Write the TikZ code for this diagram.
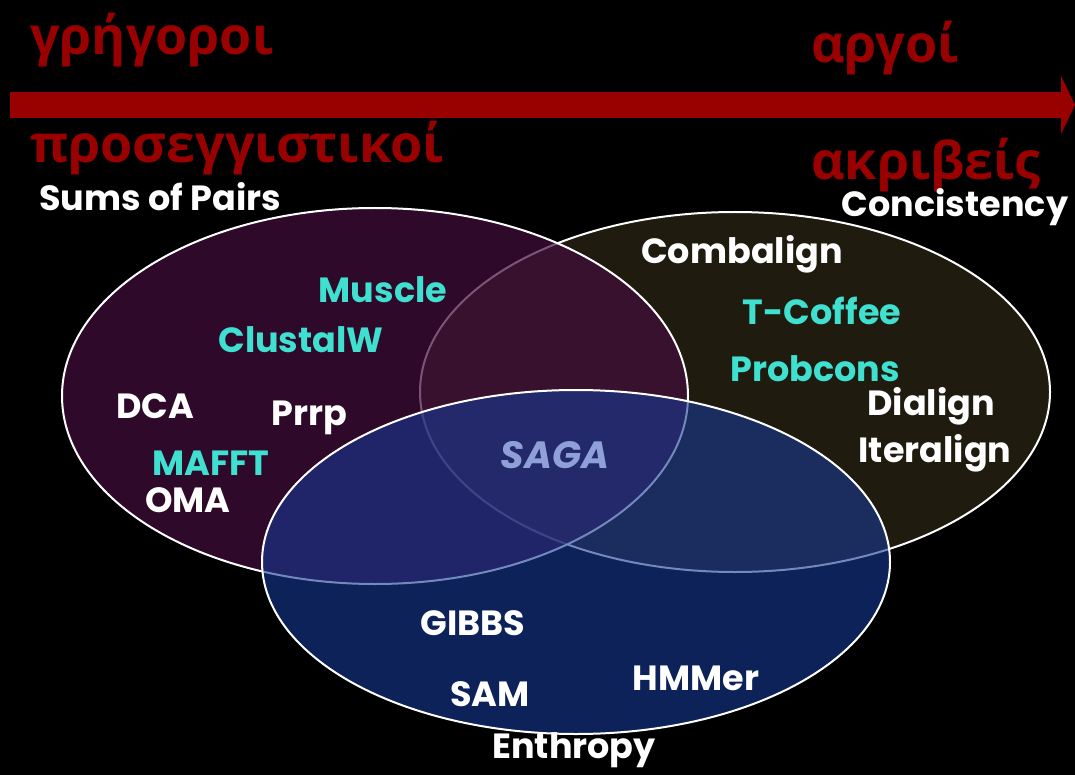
\documentclass[tikz,border=0pt]{standalone}
\usepackage{fontspec}
\setmainfont{Open Sans}
\newfontfamily\greekfont{Open Sans}
\newfontfamily\venfont{Poppins}
\usetikzlibrary{arrows.meta}
\definecolor{darkred}{HTML}{990000}
\definecolor{cyanlbl}{HTML}{40E0D0}
\definecolor{sagablue}{HTML}{8FA0D8}
\definecolor{sumfill}{RGB}{66,14,60}
\definecolor{confill}{RGB}{31,27,15}
\definecolor{entfill}{RGB}{23,57,147}
\begin{document}
\begin{tikzpicture}[x=1pt,y=-1pt]
	\tikzstyle{greek}=[text=darkred,font=\greekfont\bfseries\fontsize{52}{58}\selectfont,inner sep=0pt,anchor=base west]
	\tikzstyle{tool}=[text=white,font=\venfont\bfseries\fontsize{35}{40}\selectfont,inner sep=0pt]
	\tikzstyle{fast}=[tool,text=cyanlbl]
	\fill[black] (0,0) rectangle (1075,775);
	\useasboundingbox (0,0) rectangle (1075,775);
	% the three sets
	\draw[white,line width=2pt,fill=confill] (735,392) ellipse [x radius=315, y radius=180];
	\draw[white,line width=2pt,fill=sumfill,fill opacity=0.7] (375,396) ellipse [x radius=313, y radius=188];
	\draw[white,line width=2pt,fill=entfill,fill opacity=0.6] (576,562) ellipse [x radius=314, y radius=172];
	% speed / accuracy axis
	\coordinate (start) at (10,105);
	\coordinate (end) at (1075,105);
	\draw[darkred,line width=26pt,-{Triangle[length=14pt,width=58pt]}] (start)--(end);
	\draw 
	node[greek](fastlbl)at(30,55){γρήγοροι}
	node[greek](approx)at(30,163){προσεγγιστικοί}
	node[greek](slowlbl)at(811,63){αργοί}
	node[greek](exact)at(811,180){ακριβείς};
	\draw
	node[tool](sop)at(160,197){Sums of Pairs}
	node[tool](cons)at(955,207){Concistency}
	node[tool](ent)at(574,750){Enthropy}
	node[tool](combalign)at(742,254){Combalign}
	node[fast](tcoffee)at(822,311){T-Coffee}
	node[fast](probcons)at(815,369){Probcons}
	node[tool](dialign)at(931,406){Dialign}
	node[tool](iteralign)at(935,453){Iteralign}
	node[fast](muscle)at(383,290){Muscle}
	node[fast](clustalw)at(301,340){ClustalW}
	node[tool](dca)at(155,406){DCA}
	node[tool](prrp)at(309,418){Prrp}
	node[fast](mafft)at(211,463){MAFFT}
	node[tool](oma)at(188,500){OMA}
	node[tool,text=sagablue,font=\venfont\bfseries\itshape\fontsize{38}{42}\selectfont](saga)at(555,455){SAGA}
	node[tool](gibbs)at(473,623){GIBBS}
	node[tool](sam)at(490,694){SAM}
	node[tool](hmmer)at(696,678){HMMer};
\end{tikzpicture}
\end{document}
